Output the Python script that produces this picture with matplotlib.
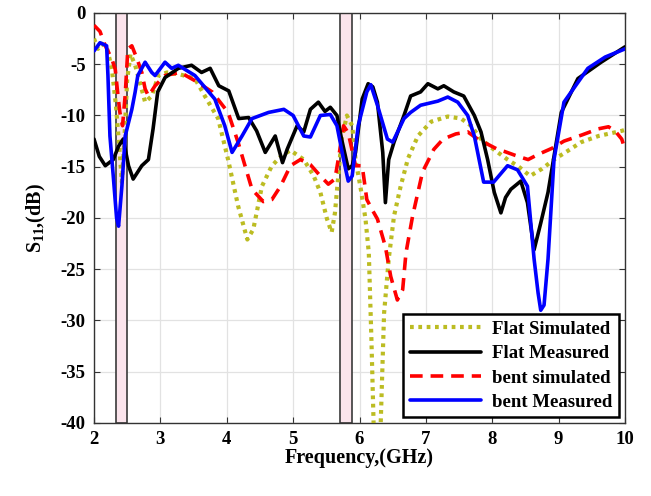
import matplotlib
matplotlib.use("Agg")
import matplotlib.pyplot as plt

# ---------------- data ----------------
fs_x = [2.0, 2.06, 2.12, 2.2, 2.27, 2.33, 2.38, 2.42, 2.46, 2.5, 2.55, 2.62, 2.7, 2.77, 2.87,
        2.97, 3.1, 3.3, 3.52, 3.67, 3.87, 4.02, 4.17, 4.31, 4.4, 4.53, 4.68, 4.83, 4.96, 5.16,
        5.31, 5.41, 5.51, 5.58, 5.63, 5.68, 5.73, 5.81, 5.89, 5.94, 6.02, 6.09, 6.14, 6.18, 6.22,
        6.26, 6.31, 6.37, 6.44, 6.52, 6.62, 6.73, 6.88, 7.08, 7.33, 7.53, 7.68, 7.83, 8.0, 8.23,
        8.4, 8.57, 8.75, 8.93, 9.15, 9.34, 9.6, 9.95, 10.0]
fs_y = [-2.5, -3.5, -3.0, -3.5, -5.5, -9.0, -13.0, -16.5, -12.0, -6.5, -4.0, -5.1, -7.0, -8.7, -8.1,
        -6.1, -5.8, -6.0, -6.4, -8.1, -10.3, -14.3, -18.8, -22.1, -21.1, -16.9, -14.9, -13.9, -13.4, -14.3,
        -15.9, -17.5, -20.1, -21.4, -19.5, -15.9, -12.3, -10.0, -11.0, -14.3, -17.2, -20.1, -23.4, -32.0, -42.0,
        -48.0, -42.0, -29.3, -24.0, -19.8, -16.9, -14.2, -12.0, -10.6, -10.1, -10.3, -11.0, -12.3, -13.2, -14.3,
        -15.0, -15.9, -15.2, -14.3, -13.4, -12.6, -12.0, -11.5, -11.4]

fm_x = [2.0, 2.08, 2.17, 2.29, 2.37, 2.44, 2.52, 2.59, 2.72, 2.82, 2.89, 2.96, 3.07, 3.27, 3.47,
        3.62, 3.75, 3.88, 4.03, 4.18, 4.33, 4.45, 4.58, 4.73, 4.84, 4.91, 5.06, 5.16, 5.26, 5.38,
        5.48, 5.56, 5.66, 5.73, 5.83, 5.89, 5.94, 6.04, 6.13, 6.2, 6.27, 6.35, 6.39, 6.44, 6.52,
        6.67, 6.77, 6.92, 7.03, 7.18, 7.27, 7.42, 7.57, 7.73, 7.83, 7.93, 8.03, 8.13, 8.2, 8.28,
        8.43, 8.53, 8.63, 8.73, 8.84, 9.04, 9.29, 9.64, 10.0]
fm_y = [-12.3, -14.0, -14.9, -14.3, -13.0, -12.3, -14.9, -16.2, -14.9, -14.3, -11.3, -7.7, -6.3, -5.4, -5.1,
        -5.8, -5.4, -7.1, -7.6, -10.3, -10.2, -11.5, -13.6, -12.0, -14.6, -13.3, -11.0, -11.6, -9.4, -8.7,
        -9.6, -9.2, -10.0, -12.3, -15.2, -14.9, -13.6, -8.4, -6.9, -7.2, -8.7, -13.6, -18.5, -14.3, -12.6,
        -10.0, -8.1, -7.7, -6.9, -7.4, -7.1, -7.7, -8.1, -10.0, -11.6, -14.3, -17.5, -19.5, -18.0, -17.2,
        -16.4, -18.5, -23.1, -20.5, -17.5, -9.7, -6.4, -4.8, -3.3]

bs_x = [2.0, 2.09, 2.17, 2.27, 2.32, 2.36, 2.39, 2.43, 2.47, 2.51, 2.57, 2.65, 2.72, 2.77, 2.82,
        2.92, 3.07, 3.3, 3.52, 3.78, 4.02, 4.17, 4.38, 4.55, 4.68, 4.81, 4.96, 5.11, 5.26, 5.41,
        5.53, 5.63, 5.7, 5.76, 5.83, 5.94, 6.04, 6.11, 6.2, 6.27, 6.39, 6.47, 6.57, 6.65, 6.7,
        6.8, 6.95, 7.12, 7.26, 7.45, 7.63, 7.78, 8.08, 8.18, 8.35, 8.54, 8.69, 8.9, 9.08, 9.35,
        9.6, 9.75, 9.85, 9.95, 10.0]
bs_y = [-1.2, -1.8, -3.2, -4.5, -5.5, -8.0, -9.7, -11.0, -8.0, -3.5, -3.2, -4.5, -5.8, -7.4, -8.1,
        -7.1, -6.1, -5.8, -6.6, -7.7, -9.7, -12.6, -17.2, -18.4, -18.2, -16.9, -14.9, -14.3, -14.8, -15.9,
        -16.7, -16.2, -13.5, -11.0, -11.7, -14.9, -14.9, -18.2, -19.3, -20.1, -22.8, -25.7, -28.0, -27.0, -23.4,
        -19.8, -15.5, -13.3, -12.3, -11.8, -11.6, -12.3, -13.3, -13.5, -13.9, -14.3, -13.8, -13.2, -12.5, -11.9,
        -11.3, -11.1, -11.5, -12.3, -13.3]

bm_x = [2.0, 2.09, 2.19, 2.21, 2.24, 2.29, 2.34, 2.37, 2.42, 2.47, 2.57, 2.62, 2.66, 2.77, 2.87,
        2.92, 3.07, 3.17, 3.27, 3.52, 3.82, 3.97, 4.08, 4.23, 4.38, 4.63, 4.86, 5.0, 5.16, 5.26,
        5.41, 5.56, 5.66, 5.76, 5.83, 5.89, 5.98, 6.11, 6.17, 6.27, 6.42, 6.5, 6.67, 6.77, 6.92,
        7.18, 7.33, 7.48, 7.63, 7.73, 7.87, 8.02, 8.23, 8.38, 8.53, 8.63, 8.69, 8.73, 8.78, 8.84,
        8.93, 9.08, 9.44, 9.7, 10.0]
bm_y = [-3.7, -2.9, -3.2, -6.1, -12.0, -15.9, -20.0, -20.8, -16.9, -12.0, -9.4, -7.7, -6.1, -4.8, -5.8,
        -6.1, -4.8, -5.4, -5.1, -6.1, -8.4, -11.0, -13.6, -12.0, -10.3, -9.7, -9.4, -10.0, -12.0, -12.1,
        -10.0, -9.9, -11.0, -14.3, -16.4, -15.9, -11.0, -7.7, -7.0, -9.0, -12.3, -12.6, -10.3, -9.7, -9.0,
        -8.6, -8.2, -8.7, -10.0, -12.0, -16.5, -16.5, -14.9, -15.3, -16.9, -24.0, -27.3, -29.0, -28.5, -24.0,
        -14.3, -8.7, -5.4, -4.3, -3.5]

bands = [(2.33, 2.50), (5.71, 5.89)]
x_ticks = [2, 3, 4, 5, 6, 7, 8, 9, 10]
y_ticks = [0, -5, -10, -15, -20, -25, -30, -35, -40]
labels = ["Flat Simulated", "Flat Measured", "bent simulated", "bent Measured"]

# ---------------- style ----------------
plt.rcParams['font.family'] = ['Liberation Serif', 'DejaVu Serif']
plt.rcParams['font.weight'] = 'bold'
plt.rcParams['axes.unicode_minus'] = False
plt.rcParams['mathtext.fontset'] = 'custom'
plt.rcParams['mathtext.rm'] = 'Liberation Serif:bold'
plt.rcParams['mathtext.default'] = 'rm'

fig = plt.figure(figsize=(6.51, 4.96), dpi=100)
ax = fig.add_axes([0.1444, 0.1472, 0.8157, 0.8266])

for (a, b) in bands:
    ax.axvspan(a, b, facecolor='#fbe4ec', edgecolor='#3a3a3a', linewidth=1.2, zorder=1)

lw = 2.6
common = dict(solid_joinstyle='round', solid_capstyle='round')
ax.plot(fs_x, fs_y, color='#bcbc22', linestyle=(0, (0.9, 1.1)), linewidth=3.0,
        label=labels[0], zorder=3)
ax.plot(fm_x, fm_y, color='black', linestyle='-', linewidth=lw, label=labels[1], zorder=4, **common)
ax.plot(bs_x, bs_y, color='#ff0000', linestyle=(0, (3.5, 2.2)), linewidth=lw,
        label=labels[2], zorder=3)
ax.plot(bm_x, bm_y, color='#0000ff', linestyle='-', linewidth=lw, label=labels[3], zorder=4, **common)

ax.set_xlim(2, 10)
ax.set_ylim(-40, 0)
ax.set_xticks(x_ticks)
ax.set_yticks(y_ticks)
ax.grid(True, color='#e2e2e2', linewidth=0.9, zorder=0)
ax.set_axisbelow(True)
ax.tick_params(direction='in', top=True, right=True, labelsize=13.5, length=4,
               color='#333333', pad=6)
for lab in ax.get_xticklabels() + ax.get_yticklabels():
    lab.set_fontweight('bold')
for sp in ax.spines.values():
    sp.set_color('#333333')
    sp.set_linewidth(1.0)

ax.set_xlabel('Frequency,(GHz)', fontsize=14.5, fontweight='bold', labelpad=0)
ax.set_ylabel(r'S$_{11}$,(dB)', fontsize=14.5, fontweight='bold', labelpad=9)

leg = ax.legend(loc='lower right', prop={'weight': 'bold', 'size': 13.5},
                frameon=True, fancybox=False, edgecolor='black', framealpha=1,
                handlelength=3.8, labelspacing=0.38, borderaxespad=0.3,
                borderpad=0.35, handletextpad=0.6)
leg.get_frame().set_linewidth(1.8)

fig.savefig('out.png', dpi=100)
